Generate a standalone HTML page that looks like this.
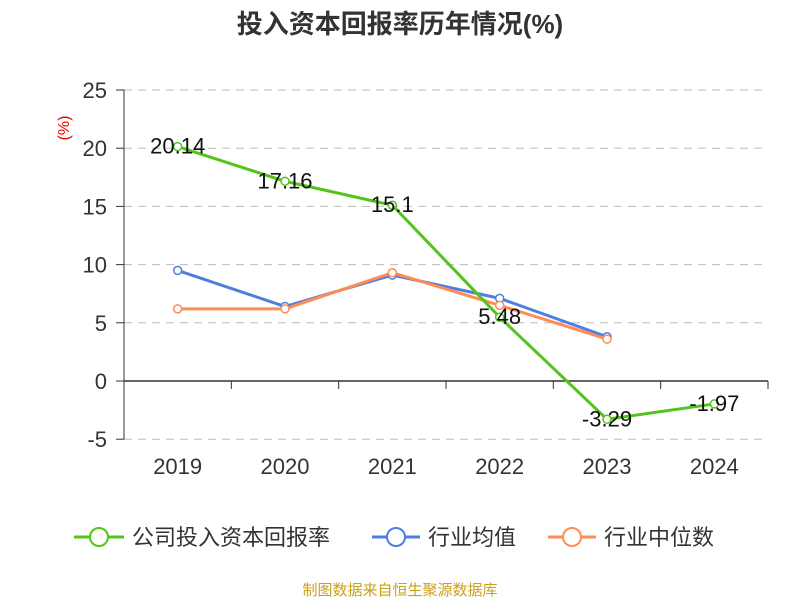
<!DOCTYPE html>
<html><head><meta charset="utf-8"><style>
body{margin:0;background:#fff;font-family:"Liberation Sans","Noto Sans CJK SC",sans-serif}
</style></head><body>
<svg width="800" height="600" id="c" xmlns="http://www.w3.org/2000/svg" font-family="Liberation Sans, Noto Sans CJK SC, sans-serif">
<text x="400" y="33" text-anchor="middle" font-size="26" font-weight="bold" fill="#333">投入资本回报率历年情况(%)</text>
<text x="69" y="128" font-size="16" fill="#e00" transform="rotate(-90 69 128)" text-anchor="middle">(%)</text>
<g id="grid"></g><g id="axes"></g><g id="series"></g>
<g>
<g><line x1="74" y1="537" x2="124" y2="537" stroke="#52c41a" stroke-width="3"/><circle cx="99" cy="537" r="9" fill="#fff" stroke="#52c41a" stroke-width="2"/><text x="132" y="545" font-size="22" fill="#333">公司投入资本回报率</text></g>
<g><line x1="372" y1="537" x2="420" y2="537" stroke="#4e7fe0" stroke-width="3"/><circle cx="396" cy="537" r="9" fill="#fff" stroke="#4e7fe0" stroke-width="2"/><text x="428" y="545" font-size="22" fill="#333">行业均值</text></g>
<g><line x1="548" y1="537" x2="596" y2="537" stroke="#ff8c55" stroke-width="3"/><circle cx="572" cy="537" r="9" fill="#fff" stroke="#ff8c55" stroke-width="2"/><text x="604" y="545" font-size="22" fill="#333">行业中位数</text></g>
</g>
<text x="400" y="595" text-anchor="middle" font-size="15" fill="#c9a01a">制图数据来自恒生聚源数据库</text>
</svg>
<script>
const categories=["2019","2020","2021","2022","2023","2024"];
const companyValues=[20.14,17.16,15.1,5.48,-3.29,-1.97];
const industryAvg=[9.5,6.4,9.1,7.1,3.8];
const industryMedian=[6.2,6.2,9.3,6.5,3.6];
const yTicks=[-5,0,5,10,15,20,25];
const NS="http://www.w3.org/2000/svg";
const x0=124,x1=768,step=(x1-x0)/categories.length;
const xs=i=>x0+step*(i+0.5);
const ys=v=>381-v*(381-90)/25;
function mk(p,t,a){const e=document.createElementNS(NS,t);for(const k in a)e.setAttribute(k,a[k]);document.getElementById(p).appendChild(e);return e;}
yTicks.forEach(v=>{
 if(v!==0){const g=mk('grid','line',{x1:x0,x2:x1,y1:ys(v),y2:ys(v),stroke:'#bbb','stroke-dasharray':'8,6'});
 
 }
 const t=mk('axes','text',{x:107,y:ys(v)+8,'text-anchor':'end','font-size':22,fill:'#333'});t.textContent=v;
 
 
 const tk=mk('axes','line',{x1:x0-8,x2:x0,y1:ys(v),y2:ys(v),stroke:'#333'});
 
 
});
const ya=mk('axes','line',{x1:x0,x2:x0,y1:ys(25),y2:ys(-5),stroke:'#333'});


const xa=mk('axes','line',{x1:x0,x2:x1,y1:ys(0),y2:ys(0),stroke:'#333','stroke-width':1.5});


for(let i=0;i<=categories.length;i++){const tk=mk('axes','line',{x1:x0+step*i,x2:x0+step*i,y1:ys(0),y2:ys(0)+8,stroke:'#333'});
 
 }
categories.forEach((c,i)=>{const t=mk('axes','text',{x:xs(i),y:474,'text-anchor':'middle','font-size':22,fill:'#333'});t.textContent=c;
 
 });
function series(vals,color,name,labels){
 const l=mk('series','polyline',{points:vals.map((v,i)=>xs(i)+','+ys(v)).join(' '),fill:'none',stroke:color,'stroke-width':3});
 
 
 vals.forEach((v,i)=>{const p=mk('series','circle',{cx:xs(i),cy:ys(v),r:4,fill:'#fff',stroke:color,'stroke-width':1.5});
  
  
  if(labels){const t=mk('series','text',{x:xs(i),y:ys(v)+7,'text-anchor':'middle','font-size':22,fill:'#111'});t.textContent=v;
   
   }
 });
}
series(industryAvg,'#4e7fe0','industry-avg',false);
series(industryMedian,'#ff8c55','industry-median',false);
series(companyValues,'#52c41a','company',true);
</script>
</body></html>
